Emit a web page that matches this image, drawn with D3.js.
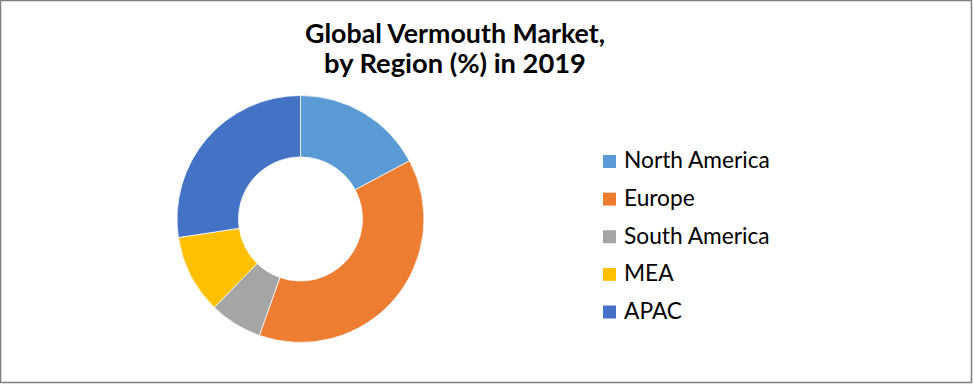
<!DOCTYPE html>
<html><head><meta charset="utf-8">
<script src="https://cdn.jsdelivr.net/npm/d3@7"></script>
<style>body{margin:0;background:#fff}svg{display:block}</style>
</head><body>
<script>
const categories = ["North America","Europe","South America","MEA","APAC"];
const values = [17.2, 38.2, 6.9, 10.3, 27.4];
const colors = ["#5b9bd5","#ed7d31","#a5a5a5","#ffc000","#4472c4"];
const titleLines = ["Global Vermouth Market,","by Region (%) in 2019"];

const W = 973, H = 384;
const svg = d3.select("body").append("svg").attr("width", W).attr("height", H);
svg.append("rect").attr("x",0.5).attr("y",0.5).attr("width",W-2).attr("height",H-2)
  .attr("fill","#fff").attr("stroke","#7f7f7f").attr("stroke-width",1.5);

const font = "Lato, 'Open Sans', sans-serif";
function fit(sel, target, start){
  let fs = start; sel.attr("font-size", fs);
  const w = sel.node().getComputedTextLength();
  fs = fs * target / w; sel.attr("font-size", fs);
}
const titleTargets = [300, 262];
const titleY = [43, 73];
titleLines.forEach((t,i)=>{
  const s = svg.append("text").attr("x",455).attr("y",titleY[i]).attr("text-anchor","middle")
    .attr("font-family",font).attr("font-weight","bold").attr("fill","#000").text(t);
  fit(s, titleTargets[i], 26);
});

const cx = 300.5, cy = 219, R = 123.5, r = 62;
const pie = d3.pie().sort(null).value(d=>d)(values);
const arc = d3.arc().innerRadius(r).outerRadius(R);
const g = svg.append("g").attr("transform",`translate(${cx},${cy})`);
g.selectAll("path").data(pie).join("path").attr("d",arc)
  .attr("fill",(d,i)=>colors[i]).attr("stroke","#fff").attr("stroke-width",0.75);

const legY = d3.scalePoint().domain(categories).range([161.5, 312]);
const lg = svg.append("g");
let legendFs = null;
categories.forEach((c,i)=>{
  const y = legY(c);
  lg.append("rect").attr("x",603).attr("y",y-6.5).attr("width",13).attr("height",13).attr("fill",colors[i]);
  const t = lg.append("text").attr("x",624).attr("y",y+6.8).attr("font-family",font)
    .attr("fill","#000").text(c);
  if (i===0){ fit(t, 146, 20); legendFs = t.attr("font-size"); }
  else t.attr("font-size", legendFs);
});
</script>
</body></html>
